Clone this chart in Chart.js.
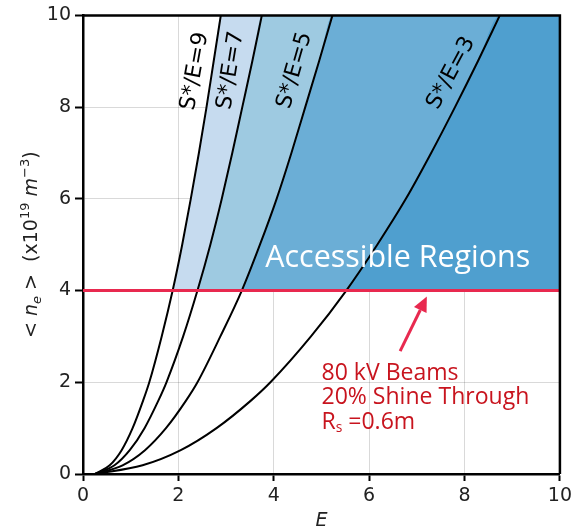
<!DOCTYPE html>
<html>
<head>
<meta charset="utf-8">
<script src="https://cdn.jsdelivr.net/npm/chart.js@4/dist/chart.umd.min.js"></script>
<style>
html,body{margin:0;padding:0;background:#fff;}
#wrap{width:576px;height:531px;}
</style>
</head>
<body>
<div id="wrap"><canvas id="c" width="576" height="531"></canvas></div>
<script>
// ---- data ----
const nLevels = [0, 0.19, 0.52, 1, 1.6, 2, 3, 4, 5, 6, 7, 8, 9, 10];
const eCurve3 = [0.25, 1.25, 2.05, 2.8, 3.52, 3.93, 4.78, 5.52, 6.17, 6.77, 7.3, 7.8, 8.28, 8.74];
const eCurve5 = [0.25, 0.83, 1.3, 1.74, 2.16, 2.4, 2.88, 3.33, 3.71, 4.06, 4.37, 4.66, 4.95, 5.23];
const eCurve7 = [0.25, 0.66, 0.98, 1.29, 1.58, 1.75, 2.1, 2.4, 2.67, 2.91, 3.13, 3.34, 3.55, 3.75];
const eCurve9 = [0.25, 0.56, 0.81, 1.04, 1.26, 1.39, 1.65, 1.88, 2.08, 2.26, 2.43, 2.59, 2.74, 2.89];
const curveLabels = ["S*/E=3", "S*/E=5", "S*/E=7", "S*/E=9"];
const thresholdN = 4;
const xTicks = [0, 2, 4, 6, 8, 10];
const yTicks = [0, 2, 4, 6, 8, 10];
const xRange = [0, 10];
const yRange = [0, 10];

const curves = [eCurve3, eCurve5, eCurve7, eCurve9];
const fillColors = ['#4f9fcf', '#6baed6', '#9ecae1', '#c6dbef'];

function curvePoints(eArr) {
  return eArr.map((e, i) => ({x: e, y: nLevels[i]}));
}
function regionPoints(eArr) {
  const pts = [];
  eArr.forEach((e, i) => { if (nLevels[i] >= thresholdN) pts.push({x: e, y: nLevels[i]}); });
  pts.push({x: xRange[1], y: yRange[1]});
  return pts;
}

const datasets = [];
curves.forEach((c, i) => {
  datasets.push({
    data: regionPoints(c), showLine: true, borderWidth: 0, pointRadius: 0,
    backgroundColor: fillColors[i], fill: {value: thresholdN},
    cubicInterpolationMode: 'monotone', order: 6 + i
  });
});
curves.forEach((c, i) => {
  datasets.push({
    data: curvePoints(c), showLine: true, borderColor: '#000', borderWidth: 2,
    pointRadius: 0, fill: false, cubicInterpolationMode: 'monotone', order: 2
  });
});
datasets.push({
  data: [{x: xRange[0], y: thresholdN}, {x: xRange[1], y: thresholdN}],
  showLine: true, borderColor: '#e8294f', borderWidth: 3, pointRadius: 0, fill: false, order: 1
});

const labelSpecs = [
  {t: curveLabels[0], e: 7.72, n: 8.74, a: 62},
  {t: curveLabels[1], e: 4.44, n: 8.8, a: 74},
  {t: curveLabels[2], e: 3.1, n: 8.8, a: 80.8},
  {t: curveLabels[3], e: 2.35, n: 8.78, a: 80}
];

function fitSize(ctx, text, fontTpl, target) {
  ctx.font = fontTpl.replace('SIZE', '100px');
  const w = ctx.measureText(text).width;
  return 100 * target / w;
}

const annot = {
  id: 'annot',
  afterDraw(chart) {
    const {ctx, chartArea: ca, scales: {x, y}} = chart;
    ctx.save();
    // frame top/right
    ctx.strokeStyle = '#000'; ctx.lineWidth = 2.5;
    ctx.beginPath();
    ctx.moveTo(ca.left, ca.top); ctx.lineTo(ca.right, ca.top); ctx.lineTo(ca.right, ca.bottom);
    ctx.stroke();

    // curve labels
    ctx.fillStyle = '#000';
    ctx.font = '22px "DejaVu Sans"';
    ctx.textAlign = 'center'; ctx.textBaseline = 'middle';
    labelSpecs.forEach(s => {
      ctx.save();
      ctx.translate(x.getPixelForValue(s.e), y.getPixelForValue(s.n));
      ctx.rotate(-s.a * Math.PI / 180);
      ctx.fillText(s.t, 0, 0);
      ctx.restore();
    });

    // Accessible Regions
    const accTpl = '500 SIZE "Open Sans"';
    const accSize = fitSize(ctx, 'Accessible Regions', accTpl, 265);
    ctx.font = accTpl.replace('SIZE', accSize + 'px');
    ctx.fillStyle = '#ffffff';
    ctx.textAlign = 'center'; ctx.textBaseline = 'middle';
    ctx.fillText('Accessible Regions', x.getPixelForValue(6.6), y.getPixelForValue(4.7));

    // arrow
    const tx = x.getPixelForValue(6.65), ty = y.getPixelForValue(2.68);
    const hx = x.getPixelForValue(7.21), hy = y.getPixelForValue(3.87);
    const ang = Math.atan2(hy - ty, hx - tx);
    const hl = 15, hw = 7;
    ctx.strokeStyle = '#e8294f'; ctx.fillStyle = '#e8294f'; ctx.lineWidth = 3;
    ctx.beginPath();
    ctx.moveTo(tx, ty);
    ctx.lineTo(hx - hl * Math.cos(ang), hy - hl * Math.sin(ang));
    ctx.stroke();
    ctx.beginPath();
    ctx.moveTo(hx, hy);
    ctx.lineTo(hx - hl * Math.cos(ang) + hw * Math.sin(ang), hy - hl * Math.sin(ang) - hw * Math.cos(ang));
    ctx.lineTo(hx - hl * Math.cos(ang) - hw * Math.sin(ang), hy - hl * Math.sin(ang) + hw * Math.cos(ang));
    ctx.closePath(); ctx.fill();

    // red text
    const rTpl = '500 SIZE "Open Sans"';
    const rSize = fitSize(ctx, '20% Shine Through', rTpl, 208);
    ctx.fillStyle = '#c8141e';
    ctx.textAlign = 'left'; ctx.textBaseline = 'middle';
    const lx = x.getPixelForValue(5.0);
    ctx.font = rTpl.replace('SIZE', rSize + 'px');
    ctx.fillText('80 kV Beams', lx, y.getPixelForValue(2.19));
    ctx.fillText('20% Shine Through', lx, y.getPixelForValue(1.67));
    const l3y = y.getPixelForValue(1.13);
    ctx.fillText('R', lx, l3y);
    let cx = lx + ctx.measureText('R').width;
    ctx.font = rTpl.replace('SIZE', (rSize * 0.6) + 'px');
    ctx.fillText('s', cx, l3y + 6);
    cx += ctx.measureText('s').width;
    ctx.font = rTpl.replace('SIZE', rSize + 'px');
    ctx.fillText(' =0.6m', cx, l3y);

    // y axis title (rich text)
    const segs = [
      {t: '< ', f: '19px "DejaVu Sans"', dy: 0},
      {t: 'n', f: 'italic 19px "DejaVu Sans"', dy: 0},
      {t: 'e', f: 'italic 13px "DejaVu Sans"', dy: 4},
      {t: ' >  (x10', f: '19px "DejaVu Sans"', dy: 0},
      {t: '19', f: '13px "DejaVu Sans"', dy: -8},
      {t: ' ', f: '19px "DejaVu Sans"', dy: 0},
      {t: 'm', f: 'italic 19px "DejaVu Sans"', dy: 0},
      {t: '\u22123', f: '13px "DejaVu Sans"', dy: -8},
      {t: ')', f: '19px "DejaVu Sans"', dy: 0}
    ];
    let total = 0;
    segs.forEach(s => { ctx.font = s.f; s.w = ctx.measureText(s.t).width; total += s.w; });
    ctx.save();
    ctx.translate(30, (ca.top + ca.bottom) / 2);
    ctx.rotate(-Math.PI / 2);
    ctx.fillStyle = '#222';
    ctx.textAlign = 'left'; ctx.textBaseline = 'alphabetic';
    let px = -total / 2;
    segs.forEach(s => { ctx.font = s.f; ctx.fillText(s.t, px, 7 + s.dy); px += s.w; });
    ctx.restore();

    ctx.restore();
  }
};

new Chart(document.getElementById('c'), {
  type: 'scatter',
  data: {datasets},
  options: {
    responsive: false, animation: false,
    layout: {padding: {left: 0, right: 9, top: 12, bottom: 0}},
    plugins: {legend: {display: false}, tooltip: {enabled: false}},
    scales: {
      x: {
        type: 'linear', min: xRange[0], max: xRange[1], z: 1,
        afterBuildTicks: s => { s.ticks = xTicks.map(v => ({value: v})); },
        afterFit: s => { s.height = 57; },
        grid: {color: 'rgba(0,0,0,0.15)', lineWidth: 1, tickColor: '#000', tickWidth: 2, tickLength: 7},
        border: {color: '#000', width: 2.5},
        ticks: {font: {family: 'DejaVu Sans', size: 19}, color: '#222', padding: 4, maxRotation: 0},
        title: {display: true, text: 'E', font: {family: 'DejaVu Sans', size: 19, style: 'italic', lineHeight: 1}, color: '#222', padding: {top: 0, bottom: 0}}
      },
      y: {
        type: 'linear', min: yRange[0], max: yRange[1], z: 1,
        afterBuildTicks: s => { s.ticks = yTicks.map(v => ({value: v})); },
        afterFit: s => { s.width = 83; },
        grid: {color: 'rgba(0,0,0,0.15)', lineWidth: 1, tickColor: '#000', tickWidth: 2, tickLength: 8},
        border: {color: '#000', width: 2.5},
        ticks: {font: {family: 'DejaVu Sans', size: 19}, color: '#222', padding: 4}
      }
    }
  },
  plugins: [annot]
});
</script>
</body>
</html>
